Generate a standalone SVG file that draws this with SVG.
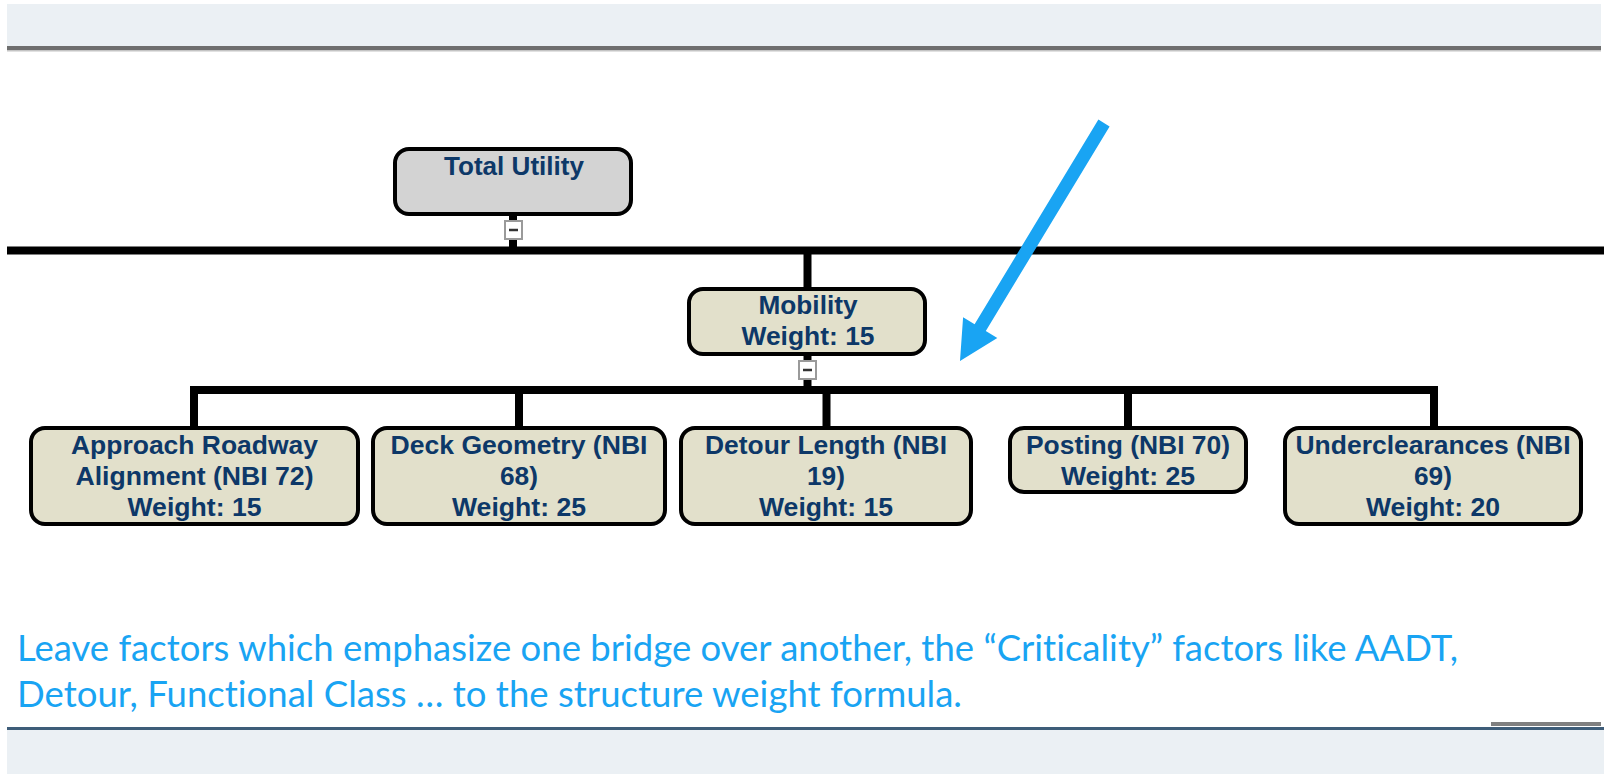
<svg xmlns="http://www.w3.org/2000/svg" width="1604" height="774" viewBox="0 0 1604 774">
<style>
.node rect.box{stroke:#000;stroke-width:4}
.tu{fill:#d3d3d3}
.bg{fill:#e2e0cb}
.lbl{font-family:"Liberation Sans",Arial,sans-serif;font-weight:bold;font-size:25.5px;fill:#0d3868;text-anchor:middle}
.conn line{stroke:#000;stroke-width:8}
.tog rect{fill:#fff;stroke:#9a9a9a;stroke-width:2}
.tog line{stroke:#333;stroke-width:2.5}
.cap{font-family:Lato,"Open Sans",sans-serif;font-size:36.5px;fill:#19a4f3;font-variant-ligatures:none}
</style>
<rect x="0" y="0" width="1604" height="774" fill="#fff"/>
<g id="header">
<rect x="7" y="4" width="1594" height="42" fill="#ebf0f4"/>
<rect x="7" y="46" width="1594" height="4" fill="#6e6e6e"/>
<rect x="7" y="50" width="1594" height="1.5" fill="#c4c4c4"/>
</g>
<g id="footer">
<rect x="1491" y="722" width="110" height="4" fill="#808080"/>
<rect x="7" y="727" width="1597" height="3" fill="#3e5d79"/>
<rect x="7" y="730" width="1597" height="44" fill="#ebf0f4"/>
</g>
<g class="conn" id="connectors">
<line x1="7" y1="250.5" x2="1604" y2="250.5"/>
<line x1="513" y1="214" x2="513" y2="252"/>
<line x1="807.5" y1="250" x2="807.5" y2="290"/>
<line x1="807.5" y1="353" x2="807.5" y2="390"/>
<line x1="190" y1="390" x2="1438" y2="390"/>
<line x1="194" y1="386" x2="194" y2="429"/>
<line x1="519" y1="386" x2="519" y2="429"/>
<line x1="826.5" y1="386" x2="826.5" y2="429"/>
<line x1="1128" y1="386" x2="1128" y2="429"/>
<line x1="1434" y1="386" x2="1434" y2="429"/>
</g>
<g class="tog" id="toggle-total">
<rect x="505" y="221" width="17" height="18"/>
<line x1="509" y1="230" x2="518" y2="230"/>
</g>
<g class="tog" id="toggle-mobility">
<rect x="799" y="361" width="17" height="18"/>
<line x1="803" y1="370" x2="812" y2="370"/>
</g>
<g class="node" id="total-utility">
<rect class="box tu" x="395" y="149" width="236" height="65" rx="14"/>
<text class="lbl" x="514" y="175" textLength="140" lengthAdjust="spacingAndGlyphs">Total Utility</text>
</g>
<g class="node" id="mobility">
<rect class="box bg" x="689" y="289" width="236" height="65" rx="14"/>
<text class="lbl" x="808" y="314" textLength="99" lengthAdjust="spacingAndGlyphs">Mobility</text>
<text class="lbl" x="808" y="345" textLength="133" lengthAdjust="spacingAndGlyphs">Weight: 15</text>
</g>
<g class="node" id="approach">
<rect class="box bg" x="31" y="428" width="327" height="96" rx="14"/>
<text class="lbl" x="194.5" y="454" textLength="247" lengthAdjust="spacingAndGlyphs">Approach Roadway</text>
<text class="lbl" x="194.5" y="485" textLength="238" lengthAdjust="spacingAndGlyphs">Alignment (NBI 72)</text>
<text class="lbl" x="194.5" y="516" textLength="134" lengthAdjust="spacingAndGlyphs">Weight: 15</text>
</g>
<g class="node" id="deck">
<rect class="box bg" x="373" y="428" width="292" height="96" rx="14"/>
<text class="lbl" x="519" y="454" textLength="257" lengthAdjust="spacingAndGlyphs">Deck Geometry (NBI</text>
<text class="lbl" x="519" y="485" textLength="38" lengthAdjust="spacingAndGlyphs">68)</text>
<text class="lbl" x="519" y="516" textLength="134" lengthAdjust="spacingAndGlyphs">Weight: 25</text>
</g>
<g class="node" id="detour">
<rect class="box bg" x="681" y="428" width="290" height="96" rx="14"/>
<text class="lbl" x="826" y="454" textLength="242" lengthAdjust="spacingAndGlyphs">Detour Length (NBI</text>
<text class="lbl" x="826" y="485" textLength="38" lengthAdjust="spacingAndGlyphs">19)</text>
<text class="lbl" x="826" y="516" textLength="134" lengthAdjust="spacingAndGlyphs">Weight: 15</text>
</g>
<g class="node" id="posting">
<rect class="box bg" x="1010" y="428" width="236" height="64" rx="14"/>
<text class="lbl" x="1128" y="454" textLength="204" lengthAdjust="spacingAndGlyphs">Posting (NBI 70)</text>
<text class="lbl" x="1128" y="485" textLength="134" lengthAdjust="spacingAndGlyphs">Weight: 25</text>
</g>
<g class="node" id="underclearances">
<rect class="box bg" x="1285" y="428" width="296" height="96" rx="14"/>
<text class="lbl" x="1433" y="454" textLength="275" lengthAdjust="spacingAndGlyphs">Underclearances (NBI</text>
<text class="lbl" x="1433" y="485" textLength="38" lengthAdjust="spacingAndGlyphs">69)</text>
<text class="lbl" x="1433" y="516" textLength="134" lengthAdjust="spacingAndGlyphs">Weight: 20</text>
</g>
<g id="callout-arrow">
<polygon fill="#19a4f3" points="1098.4,119.6 1109.6,126.4 985.8,331 997.3,338 960,361 963.1,317.2 974.6,324.2"/>
</g>
<g id="caption">
<text class="cap" x="17" y="661" textLength="1441" lengthAdjust="spacingAndGlyphs">Leave factors which emphasize one bridge over another, the “Criticality” factors like AADT,</text>
<text class="cap" x="17" y="707" textLength="945" lengthAdjust="spacingAndGlyphs">Detour, Functional Class … to the structure weight formula.</text>
</g>
</svg>
